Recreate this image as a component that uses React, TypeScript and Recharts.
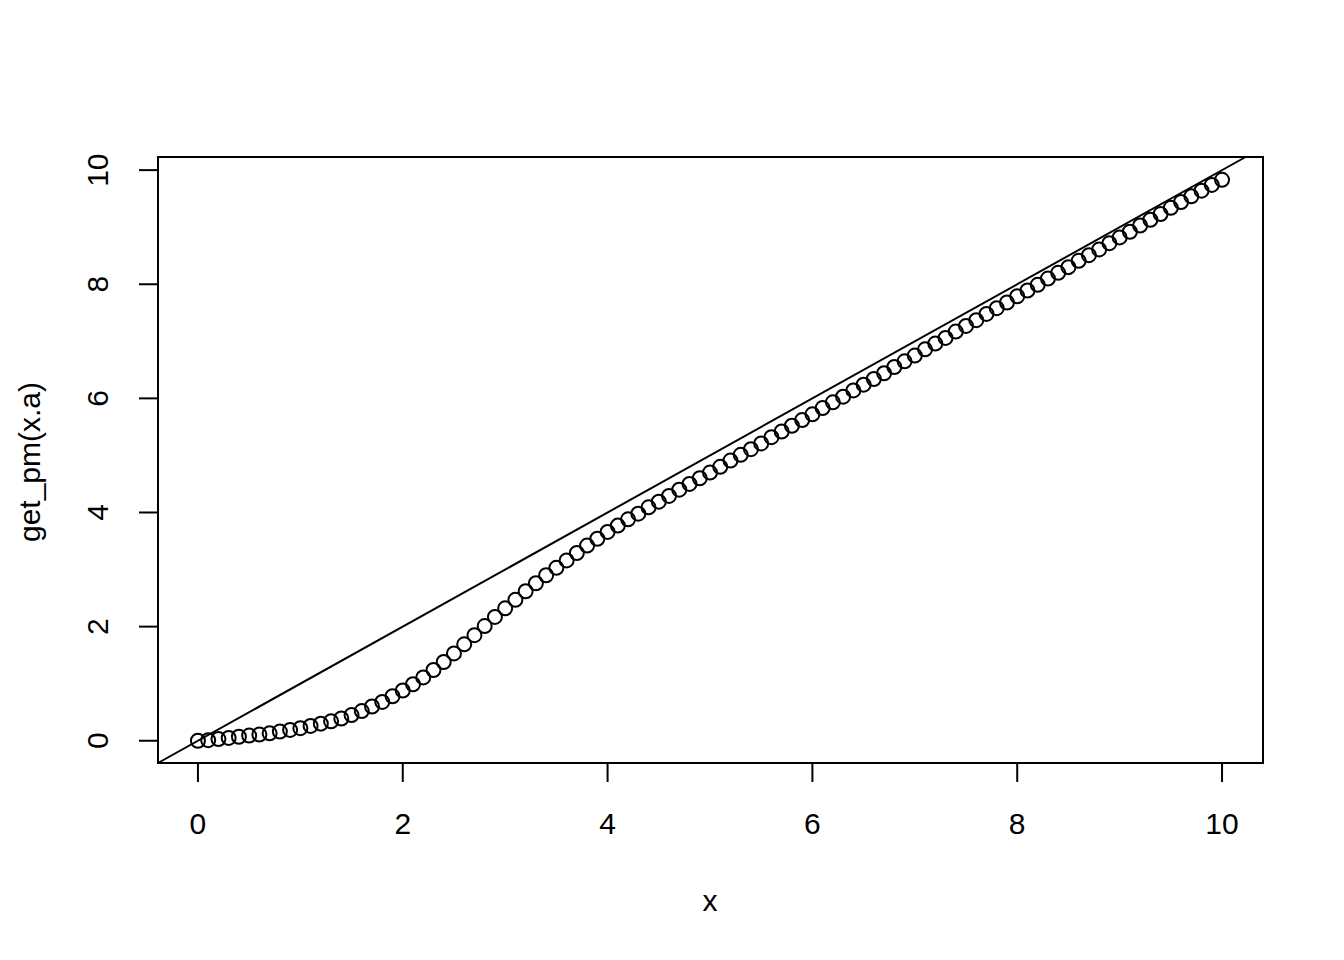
import React from "react";
import { ScatterChart, Scatter, XAxis, YAxis, ReferenceLine, ReferenceArea } from "recharts";

const xValues: number[] = [
  0, 0.1, 0.2, 0.3, 0.4, 0.5, 0.6, 0.7, 0.8, 0.9,
  1, 1.1, 1.2, 1.3, 1.4, 1.5, 1.6, 1.7, 1.8, 1.9,
  2, 2.1, 2.2, 2.3, 2.4, 2.5, 2.6, 2.7, 2.8, 2.9,
  3, 3.1, 3.2, 3.3, 3.4, 3.5, 3.6, 3.7, 3.8, 3.9,
  4, 4.1, 4.2, 4.3, 4.4, 4.5, 4.6, 4.7, 4.8, 4.9,
  5, 5.1, 5.2, 5.3, 5.4, 5.5, 5.6, 5.7, 5.8, 5.9,
  6, 6.1, 6.2, 6.3, 6.4, 6.5, 6.6, 6.7, 6.8, 6.9,
  7, 7.1, 7.2, 7.3, 7.4, 7.5, 7.6, 7.7, 7.8, 7.9,
  8, 8.1, 8.2, 8.3, 8.4, 8.5, 8.6, 8.7, 8.8, 8.9,
  9, 9.1, 9.2, 9.3, 9.4, 9.5, 9.6, 9.7, 9.8, 9.9,
  10,
];

const pmValues: number[] = [
  0, 0.01, 0.03, 0.05, 0.07, 0.09, 0.11, 0.13, 0.16, 0.19,
  0.22, 0.26, 0.3, 0.34, 0.39, 0.45, 0.52, 0.6, 0.68, 0.78,
  0.88, 0.99, 1.11, 1.24, 1.38, 1.53, 1.69, 1.85, 2.01, 2.17,
  2.32, 2.47, 2.62, 2.76, 2.9, 3.03, 3.16, 3.29, 3.42, 3.54,
  3.66, 3.77, 3.88, 3.98, 4.09, 4.19, 4.29, 4.4, 4.5, 4.6,
  4.7, 4.8, 4.91, 5.01, 5.11, 5.21, 5.32, 5.42, 5.52, 5.62,
  5.72, 5.83, 5.93, 6.03, 6.14, 6.24, 6.34, 6.44, 6.55, 6.65,
  6.75, 6.86, 6.96, 7.06, 7.17, 7.27, 7.37, 7.48, 7.58, 7.68,
  7.79, 7.89, 7.99, 8.1, 8.2, 8.3, 8.41, 8.51, 8.61, 8.72,
  8.82, 8.92, 9.03, 9.13, 9.23, 9.34, 9.44, 9.54, 9.64, 9.74,
  9.83,
];

const xTicks: number[] = [0, 2, 4, 6, 8, 10];
const yTicks: number[] = [0, 2, 4, 6, 8, 10];
const xLabel = "x";
const yLabel = "get_pm(x.a)";

const X_DOMAIN: [number, number] = [-0.39, 10.4];
const Y_DOMAIN: [number, number] = [-0.39, 10.23];

const data = xValues.map((x, i) => ({ x, y: pmValues[i] }));

const FONT = "'Liberation Sans', Arial, Helvetica, sans-serif";
const FS = 30;

const XTick = (props: any) => {
  const { x, payload } = props;
  return (
    <text x={x} y={834} textAnchor="middle" fontFamily={FONT} fontSize={FS} fill="#000">
      {payload.value}
    </text>
  );
};

const YTick = (props: any) => {
  const { y, payload } = props;
  return (
    <text
      x={108}
      y={y}
      textAnchor="middle"
      transform={`rotate(-90, 108, ${y})`}
      fontFamily={FONT}
      fontSize={FS}
      fill="#000"
    >
      {payload.value}
    </text>
  );
};

const Circle = (props: any) => {
  const { cx, cy } = props;
  if (cx == null || cy == null) return <g />;
  return <circle cx={cx} cy={cy} r={7} fill="none" stroke="#000" strokeWidth={2} />;
};

export default function App() {
  return (
    <div style={{ position: "absolute", left: 0, top: 0, width: 1344, height: 960, background: "#fff" }}>
      <ScatterChart
        width={1344}
        height={960}
        margin={{ top: 157, right: 81, bottom: 0, left: 0 }}
      >
        <XAxis
          type="number"
          dataKey="x"
          domain={X_DOMAIN}
          ticks={xTicks}
          allowDataOverflow
          height={197}
          axisLine={false}
          tickSize={19}
          tickLine={{ stroke: "#000", strokeWidth: 2 }}
          tick={<XTick />}
          interval={0}
        />
        <YAxis
          type="number"
          dataKey="y"
          domain={Y_DOMAIN}
          ticks={yTicks}
          allowDataOverflow
          width={158}
          axisLine={false}
          tickSize={19}
          tickLine={{ stroke: "#000", strokeWidth: 2 }}
          tick={<YTick />}
          interval={0}
        />
        <ReferenceArea
          x1={X_DOMAIN[0]}
          x2={X_DOMAIN[1]}
          y1={Y_DOMAIN[0]}
          y2={Y_DOMAIN[1]}
          fill="none"
          fillOpacity={0}
          stroke="#000"
          strokeWidth={2}
          strokeOpacity={1}
          ifOverflow="visible"
        />
        <ReferenceLine
          segment={[
            { x: Y_DOMAIN[0], y: Y_DOMAIN[0] },
            { x: Y_DOMAIN[1], y: Y_DOMAIN[1] },
          ]}
          stroke="#000"
          strokeWidth={2}
          ifOverflow="visible"
        />
        <Scatter data={data} shape={<Circle />} isAnimationActive={false} />
        <text x={710} y={911} textAnchor="middle" fontFamily={FONT} fontSize={FS} fill="#000">
          {xLabel}
        </text>
        <text
          x={40}
          y={462}
          textAnchor="middle"
          transform="rotate(-90, 40, 462)"
          fontFamily={FONT}
          fontSize={FS}
          fill="#000"
        >
          {yLabel}
        </text>
      </ScatterChart>
    </div>
  );
}
